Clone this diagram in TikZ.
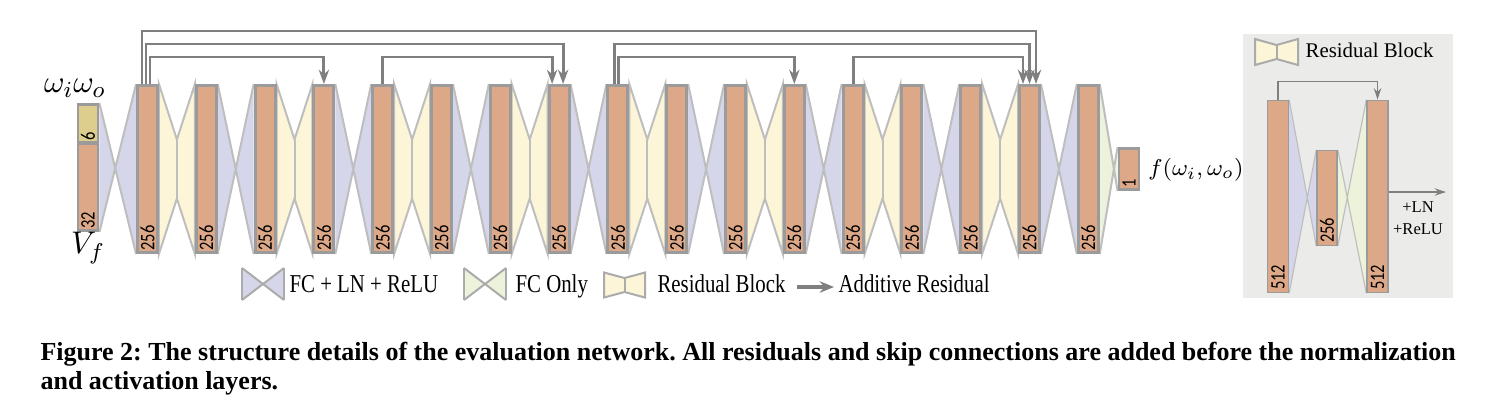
\documentclass[tikz,border=0pt]{standalone}
\usepackage{fontspec}
\usepackage{graphicx}
\setmainfont{Liberation Serif}
\newfontfamily\numfont{Carlito}
\usetikzlibrary{arrows.meta, calc, backgrounds}

\definecolor{barfill}{HTML}{DDA888}
\definecolor{infill}{HTML}{DECE8E}
\definecolor{barline}{HTML}{9B9B9B}
\definecolor{fcln}{HTML}{D6D6EA}
\definecolor{fconly}{HTML}{EDF2DA}
\definecolor{resfill}{HTML}{FDF5D7}
\definecolor{edgegray}{HTML}{BEBEBE}
\definecolor{skipgray}{HTML}{7F7F7F}
\definecolor{panelbg}{HTML}{EBEBE9}

% condensed text as in the figure
\newcommand{\narrownum}[1]{\scalebox{0.8}[1]{#1}}
\newcommand{\narrowtxt}[1]{\scalebox{0.81}[1]{#1}}

% crossing connector: fill, top left, bottom left, top right, bottom right
\newcommand{\fcconn}[5]{%
  \coordinate (xc) at (intersection of #2--#5 and #3--#4);
  \fill[#1] (#2) -- (xc) -- (#3) -- cycle;
  \fill[#1] (#4) -- (xc) -- (#5) -- cycle;
  \draw[sepline] (#2) -- (#5) (#3) -- (#4);
}
% residual block connector: left bar, right bar
\newcommand{\resconn}[2]{%
  \coordinate (mc) at ($(#1.east)!0.5!(#2.west)$);
  \filldraw[fill=resfill, sepline] (#1.north east) -- ($(mc)+(0,-29.5)$) -- (#2.north west)
    -- (#2.south west) -- ($(mc)+(0,29.5)$) -- (#1.south east) -- cycle;
  \draw[sepline] ($(mc)+(0,-29.5)$) -- ($(mc)+(0,29.5)$);
}

\begin{document}
\begin{tikzpicture}[x=0.35pt, y=-0.35pt, >=Stealth,
    bar/.style={draw=barline, line width=1pt, fill=barfill, inner sep=0pt,
      minimum width=7pt, minimum height=58.5pt},
    dimtext/.style={rotate=90, anchor=west, inner sep=1pt,
      font=\numfont\fontsize{7.2}{8}\selectfont},
    sepline/.style={draw=edgegray, line width=0.7pt},
    iconline/.style={draw=edgegray!90!black, line width=0.7pt},
    skiparrow/.style={draw=skipgray, line width=1pt, -{Stealth[length=5pt, width=3.6pt]}},
    thinarrow/.style={draw=skipgray, line width=0.5pt, -{Stealth[length=4pt, width=2.6pt]}},
    legtext/.style={anchor=base west, inner sep=0pt, font=\fontsize{9}{11}\selectfont},
    captext/.style={anchor=base west, inner sep=0pt, font=\frenchspacing\bfseries\fontsize{9.1}{11}\selectfont}]
    \useasboundingbox (0,0) rectangle (1510,411);
%
    % Layers 256
    \foreach \i in {1,...,17}
        \node[bar] (b\i) at ({147.5+(\i-1)*58.8},169) {};
    \foreach \i in {1,...,17}
        \node[dimtext] (n\i) at (b\i.south) {\narrownum{256}};
%
    % Input features
    \node[bar, fill=infill, minimum height=13.3pt] (inw) at (88,123.5) {};
    \node[bar, minimum height=30.5pt] (inv) at (88,187) {};
    \node[dimtext] (inwl) at (inw.south) {\narrownum{6}};
    \node[dimtext] (invl) at (inv.south) {\narrownum{32}};
    \node[font=\fontsize{11}{13}\selectfont] (wlbl) at (75,88) {$\omega_i\omega_o$};
    \node[font=\fontsize{11}{13}\selectfont] (vlbl) at (88,248) {$V_f$};
%
    % Output
    \node[bar, minimum height=14.4pt] (out) at (1129,169) {};
    \node[dimtext] (outl) at (out.south) {\narrownum{1}};
    \node[anchor=west, inner sep=1pt, font=\fontsize{8.2}{10}\selectfont] (flbl) at (1145,170) {$f(\omega_i,\omega_o)$};
%
    % Residual block panel
    \node[bar, line width=0.5pt, minimum width=7.3pt, minimum height=67.3pt] (pa) at (1278,196.5) {};
    \node[bar, line width=0.5pt, minimum height=33.3pt] (pb) at (1327,198) {};
    \node[bar, line width=0.5pt, minimum width=7.3pt, minimum height=67.3pt] (pc) at (1377.5,196.5) {};
    \node[dimtext] (pal) at (pa.south) {\narrownum{512}};
    \node[dimtext] (pbl) at (pb.south) {\narrownum{256}};
    \node[dimtext] (pcl) at (pc.south) {\narrownum{512}};
%
    \begin{scope}[on background layer]
        \fill[panelbg] (1243,34) rectangle (1453,298);
        % FC + LN + ReLU
        \fcconn{fcln}{inw.north east}{inv.south east}{b1.north west}{b1.south west}
        \foreach \i in {2,4,...,16} {
            \pgfmathtruncatemacro\j{\i+1}
            \fcconn{fcln}{b\i.north east}{b\i.south east}{b\j.north west}{b\j.south west}
        }
        % Residual blocks
        \foreach \i in {1,3,...,15} {
            \pgfmathtruncatemacro\j{\i+1}
            \resconn{b\i}{b\j}
        }
        % FC only
        \fcconn{fconly}{b17.north east}{b17.south east}{out.north west}{out.south west}
        \begin{scope}[sepline/.style={draw=edgegray, line width=0.4pt}]
            \fcconn{fcln}{pa.north east}{pa.south east}{pb.north west}{pb.south west}
            \fcconn{fconly}{pb.north east}{pb.south east}{pc.north west}{pc.south west}
        \end{scope}
    \end{scope}
%
    % Skip connections
    \draw[skiparrow] ($(b1.north)+(-5.5,0)$) -- ++(0,-53) -| ($(b16.north)+(6.5,0)$);
    \draw[skiparrow] ($(b1.north)+(-1.5,0)$) -- ++(0,-40) -| ($(b8.north)+(4,0)$);
    \draw[skiparrow] ($(b1.north)+(2.5,0)$) -- ++(0,-27) -| (b4.north);
    \draw[skiparrow] (b5.north) -- ++(0,-27) -| ($(b8.north)+(-7,0)$);
    \draw[skiparrow] ($(b9.north)+(-3,0)$) -- ++(0,-40) -| (b16.north);
    \draw[skiparrow] ($(b9.north)+(1,0)$) -- ++(0,-27) -| (b12.north);
    \draw[skiparrow] (b13.north) -- ++(0,-27) -| ($(b16.north)+(-6.5,0)$);
%
    % Panel arrows and text
    \draw[thinarrow] (pa.north) -- ++(0,-18) -| (pc.north);
    \coordinate (pout) at (1446,192);
    \draw[thinarrow] (pc.east |- pout) -- (pout);
    \node[anchor=base, inner sep=0pt, font=\fontsize{5.8}{7}\selectfont] (ln) at (1418,212) {+LN};
    \node[anchor=base, inner sep=0pt, font=\fontsize{5.8}{7}\selectfont] (relu) at (1418,234) {+ReLU};
    \filldraw[fill=resfill, iconline] (1255,39) -- (1276.5,45) -- (1298,39) -- (1298,65) -- (1276.5,59) -- (1255,65) -- cycle;
    \draw[iconline] (1276.5,45) -- (1276.5,59);
    \node[legtext, font=\fontsize{7.3}{9}\selectfont] (ptitle) at (1305,57) {Residual Block};
%
    % Legend
    \foreach \lx/\cl in {242/fcln, 464/fconly} {
        \fill[\cl] (\lx,268) -- ({\lx+21},284) -- (\lx,300) -- cycle
            ({\lx+42},268) -- ({\lx+21},284) -- ({\lx+42},300) -- cycle;
        \draw[iconline] (\lx,268) -- ({\lx+42},300) (\lx,300) -- ({\lx+42},268);
        \draw[iconline, line width=1pt] (\lx,268) -- (\lx,300) ({\lx+42},268) -- ({\lx+42},300);
    }
    \filldraw[fill=resfill, iconline] (604,272.5) -- (624.5,278) -- (645,272.5) -- (645,297.5) -- (624.5,292) -- (604,297.5) -- cycle;
    \draw[iconline] (624.5,278) -- (624.5,292);
    \node[legtext] (lg1) at (289,292) {\narrowtxt{FC + LN + ReLU}};
    \node[legtext] (lg2) at (515,292) {\narrowtxt{FC Only}};
    \node[legtext] (lg3) at (657,292) {\narrowtxt{Residual Block}};
    \node[legtext] (lg4) at (838,292) {\narrowtxt{Additive Residual}};
    \coordinate (la1) at (797,287);
    \coordinate (la2) at (834,287);
    \draw[skipgray, line width=1.4pt, -{Stealth[length=5pt, width=4pt]}] (la1) -- (la2);
%
    % Caption
    \node[captext] (cap1) at (40,360) {Figure 2: The structure details of the evaluation network. All residuals and skip connections are added before the normalization};
    \node[captext] (cap2) at (40,389) {and activation layers.};
\end{tikzpicture}
\end{document}
